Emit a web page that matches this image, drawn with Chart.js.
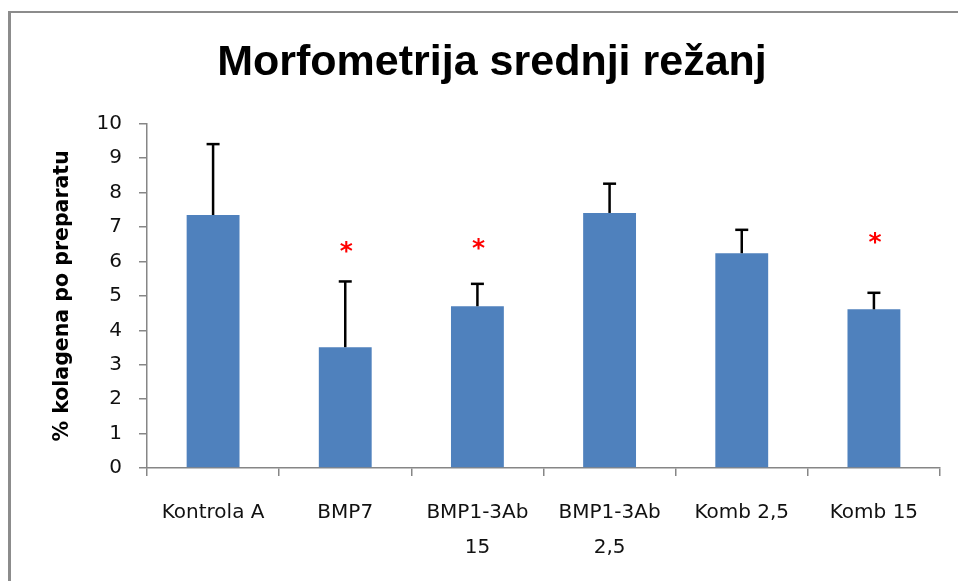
<!DOCTYPE html>
<html>
<head>
<meta charset="utf-8">
<script src="https://cdn.jsdelivr.net/npm/chart.js@4/dist/chart.umd.min.js"></script>
<style>
  html, body { margin: 0; padding: 0; background: #fff; overflow: hidden; }
  #wrap { position: relative; width: 958px; height: 581px; }
  #frame { position: absolute; left: 8px; top: 11px; width: 1000px; height: 600px;
           border-left: 3px solid #8c8c8c; border-top: 2px solid #8c8c8c; pointer-events: none; }
</style>
</head>
<body>
<div id="wrap">
  <canvas id="c" width="958" height="581"></canvas>
  <div id="frame"></div>
</div>
<script>
// ---- data ----
const categories = ["Kontrola A", "BMP7", ["BMP1-3Ab", "15"], ["BMP1-3Ab", "2,5"], "Komb 2,5", "Komb 15"];
const means = [7.35, 3.51, 4.70, 7.41, 6.24, 4.61];
const upperErrors = [2.06, 1.91, 0.65, 0.85, 0.68, 0.48];
const significanceMarks = [null, 6.49, 6.57, null, null, 6.75];
const yTicks = [0, 1, 2, 3, 4, 5, 6, 7, 8, 9, 10];
const chartTitle = "Morfometrija srednji režanj";
const yAxisTitle = "% kolagena po preparatu";

const AXIS_GRAY = '#868686';

const errorBarPlugin = {
  id: 'errorBars',
  afterDatasetsDraw(chart) {
    const meta = chart.getDatasetMeta(0);
    const yScale = chart.scales.y;
    const ctx = chart.ctx;
    ctx.save();
    ctx.strokeStyle = '#000';
    meta.data.forEach((bar, i) => {
      const top = yScale.getPixelForValue(means[i] + upperErrors[i]);
      ctx.lineWidth = 2.5;
      ctx.beginPath();
      ctx.moveTo(bar.x, bar.y);
      ctx.lineTo(bar.x, top);
      ctx.stroke();
      ctx.beginPath();
      ctx.moveTo(bar.x - 6.5, top);
      ctx.lineTo(bar.x + 6.5, top);
      ctx.stroke();
    });
    // significance asterisks
    ctx.fillStyle = '#ff0000';
    ctx.font = 'bold 25px "DejaVu Sans"';
    ctx.textAlign = 'center';
    ctx.textBaseline = 'alphabetic';
    meta.data.forEach((bar, i) => {
      const v = significanceMarks[i];
      if (v == null) return;
      const y = yScale.getPixelForValue(v);
      ctx.fillText('*', bar.x + 1, y + 0.56 * 25);
    });
    ctx.restore();
  }
};

const titleShiftPlugin = {
  id: 'titleShift',
  afterLayout(chart) {
    const tb = chart.titleBlock;
    if (tb) { tb.left = 9; tb.right = 975; tb.width = 966; }
  }
};

new Chart(document.getElementById('c'), {
  type: 'bar',
  data: {
    labels: categories,
    datasets: [{
      data: means,
      backgroundColor: '#4F81BD',
      borderWidth: 0,
      categoryPercentage: 1.0,
      barPercentage: 0.4
    }]
  },
  options: {
    responsive: false,
    animation: false,
    devicePixelRatio: 1,
    layout: { padding: { left: 0, right: 18, top: 0, bottom: 0 } },
    plugins: {
      legend: { display: false },
      tooltip: { enabled: false },
      title: {
        display: true,
        text: chartTitle,
        color: '#000',
        font: { family: '"Liberation Sans Narrow", "Liberation Sans", sans-serif', size: 43, weight: 'bold', lineHeight: 1.2 },
        padding: { top: 37, bottom: 35.2 }
      }
    },
    scales: {
      x: {
        grid: { display: true, drawOnChartArea: false, offset: true, tickLength: 8, color: AXIS_GRAY, lineWidth: 1.5 },
        border: { display: true, color: AXIS_GRAY, width: 1.5 },
        ticks: {
          color: '#111',
          font: { family: '"DejaVu Sans", sans-serif', size: 20, lineHeight: 1.75 },
          padding: 19,
          maxRotation: 0,
          autoSkip: false
        },
        afterFit(scale) { scale.height = 113; }
      },
      y: {
        min: 0,
        max: 10,
        afterBuildTicks(scale) { scale.ticks = yTicks.map(v => ({ value: v })); },
        grid: { display: true, drawOnChartArea: false, tickLength: 8, color: AXIS_GRAY, lineWidth: 1.5 },
        border: { display: true, color: AXIS_GRAY, width: 1.5 },
        ticks: {
          color: '#111',
          font: { family: '"DejaVu Sans", sans-serif', size: 20 },
          padding: 17
        },
        title: {
          display: true,
          text: yAxisTitle,
          color: '#000',
          font: { family: '"DejaVu Sans", sans-serif', size: 20.5, weight: 'bold', lineHeight: 1.2 },
          padding: { top: 50, bottom: 0 }
        },
        afterFit(scale) { scale.width = 147; }
      }
    }
  },
  plugins: [errorBarPlugin, titleShiftPlugin]
});
</script>
</body>
</html>
